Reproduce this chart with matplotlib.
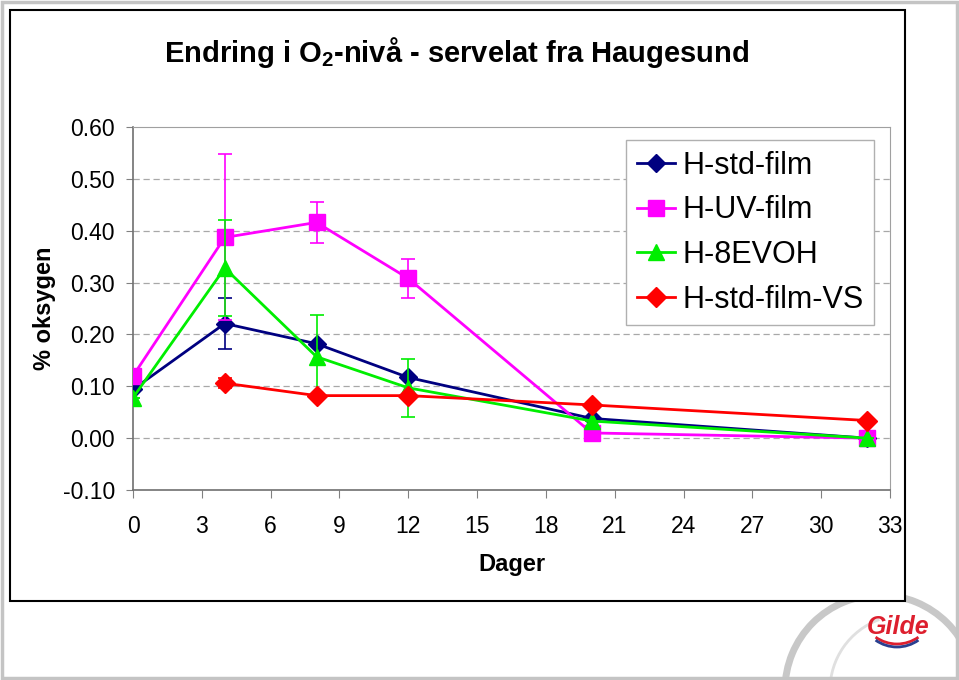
import matplotlib
matplotlib.use('Agg')
import matplotlib.pyplot as plt
from matplotlib import patches
import numpy as np

# data (days, % O2)
days_std = [0, 4, 8, 12, 20, 32]
std_film = [0.094, 0.221, 0.182, 0.117, 0.038, 0.0]
std_err = [0.0, 0.050, 0.0, 0.0, 0.0, 0.0]

days_uv = [0, 4, 8, 12, 20, 32]
uv_film = [0.120, 0.387, 0.416, 0.308, 0.010, 0.0]
uv_err = [0.0, 0.160, 0.039, 0.037, 0.0, 0.0]

days_evoh = [0, 4, 8, 12, 20, 32]
evoh = [0.078, 0.328, 0.157, 0.097, 0.033, 0.0]
evoh_err = [0.0, 0.092, 0.080, 0.056, 0.0, 0.0]

days_vs = [4, 8, 12, 20, 32]
std_vs = [0.106, 0.082, 0.082, 0.064, 0.034]
vs_err = [0.010, 0.004, 0.004, 0.0, 0.0]

labels = ['H-std-film', 'H-UV-film', 'H-8EVOH', 'H-std-film-VS']
colors = ['#000080', '#FF00FF', '#00EE00', '#FF0000']

plt.rcParams['font.family'] = ['Liberation Sans', 'DejaVu Sans']
plt.rcParams['mathtext.fontset'] = 'custom'
plt.rcParams['mathtext.bf'] = 'Liberation Sans:bold'
plt.rcParams['mathtext.rm'] = 'Liberation Sans'

W, H = 959, 680
fig = plt.figure(figsize=(W / 100, H / 100), dpi=100)

# background decoration layer in pixel coordinates
bg = fig.add_axes([0, 0, 1, 1], zorder=0)
bg.set_xlim(0, W)
bg.set_ylim(H, 0)
bg.axis('off')
bg.add_patch(patches.Arc((880, 690), 190, 190, theta1=0, theta2=360,
                         color='#c8c8c8', lw=5, zorder=1))
bg.add_patch(patches.Arc((905, 690), 150, 150, theta1=180, theta2=250,
                         color='#e0e0e0', lw=2, zorder=1))
bg.add_patch(patches.Rectangle((10, 10), 895, 591, facecolor='white',
                               edgecolor='black', lw=1.5, zorder=2))
bg.add_patch(patches.Rectangle((2, 2), 955, 676, facecolor='none',
                               edgecolor='#c4c4c4', lw=2.5, zorder=3))
bg.text(898, 627, 'Gilde', color='#dd1f2e', fontsize=18, fontweight='bold',
        style='italic', ha='center', va='center', zorder=4)
# swoosh under the logo text (y axis is inverted here)
bg.add_patch(patches.Arc((897, 600), 80, 88, theta1=60, theta2=120,
                         color='#dd1f2e', lw=2, zorder=4))
bg.add_patch(patches.Arc((897, 603), 80, 88, theta1=60, theta2=120,
                         color='#2a3f8f', lw=2, zorder=4))

fig.text(457 / W, 1 - 52 / H, r'Endring i O$_\mathbf{2}$-nivå - servelat fra Haugesund',
         ha='center', va='center', fontsize=21, fontweight='bold')

ax = fig.add_axes([133 / W, 1 - 490 / H, 757 / W, 363 / H], zorder=5)
ax.set_facecolor('white')

series = [(days_std, std_film, std_err, 'D', 9),
          (days_uv, uv_film, uv_err, 's', 12),
          (days_evoh, evoh, evoh_err, '^', 11),
          (days_vs, std_vs, vs_err, 'D', 10)]
handles = []
for i, (d, v, e, m, ms) in enumerate(series):
    ax.errorbar(d, v, yerr=e, fmt='none', ecolor=colors[i], elinewidth=1.2,
                capsize=5, capthick=1.2, zorder=3 + i)
    h, = ax.plot(d, v, color=colors[i], lw=2, marker=m, ms=ms,
                 mfc=colors[i], mec=colors[i], label=labels[i], zorder=3 + i)
    handles.append(h)

ax.set_xlim(0, 33)
ax.set_ylim(-0.1, 0.6)
ax.set_xticks(np.arange(0, 34, 3))
ax.set_yticks(np.arange(-0.1, 0.61, 0.1))
ax.yaxis.set_major_formatter(matplotlib.ticker.FormatStrFormatter('%.2f'))
ax.tick_params(axis='x', length=6, pad=12, labelsize=16.5, color='#808080')
ax.tick_params(axis='y', length=5, pad=8, labelsize=16.5, color='#808080')
for y in np.arange(0.0, 0.51, 0.1):
    ax.axhline(y, color='#a8a8a8', lw=0.9, ls=(0, (5, 3)), zorder=1)
for s in ['left', 'bottom']:
    ax.spines[s].set_color('#707070')
    ax.spines[s].set_linewidth(1.2)
for s in ['top', 'right']:
    ax.spines[s].set_color('#a0a0a0')

ax.set_xlabel('Dager', fontsize=17, fontweight='bold', labelpad=11)
ax.set_ylabel('% oksygen', fontsize=17, fontweight='bold', labelpad=5)

leg = ax.legend(handles=handles, loc='upper left', bbox_to_anchor=(0.651, 0.964),
                borderaxespad=0, fontsize=22, fancybox=False, framealpha=1,
                edgecolor='#b0b0b0', handlelength=1.25, handletextpad=0.25,
                labelspacing=0.48, borderpad=0.35)
leg.get_frame().set_linewidth(1.0)

fig.savefig('out.png', dpi=100)
